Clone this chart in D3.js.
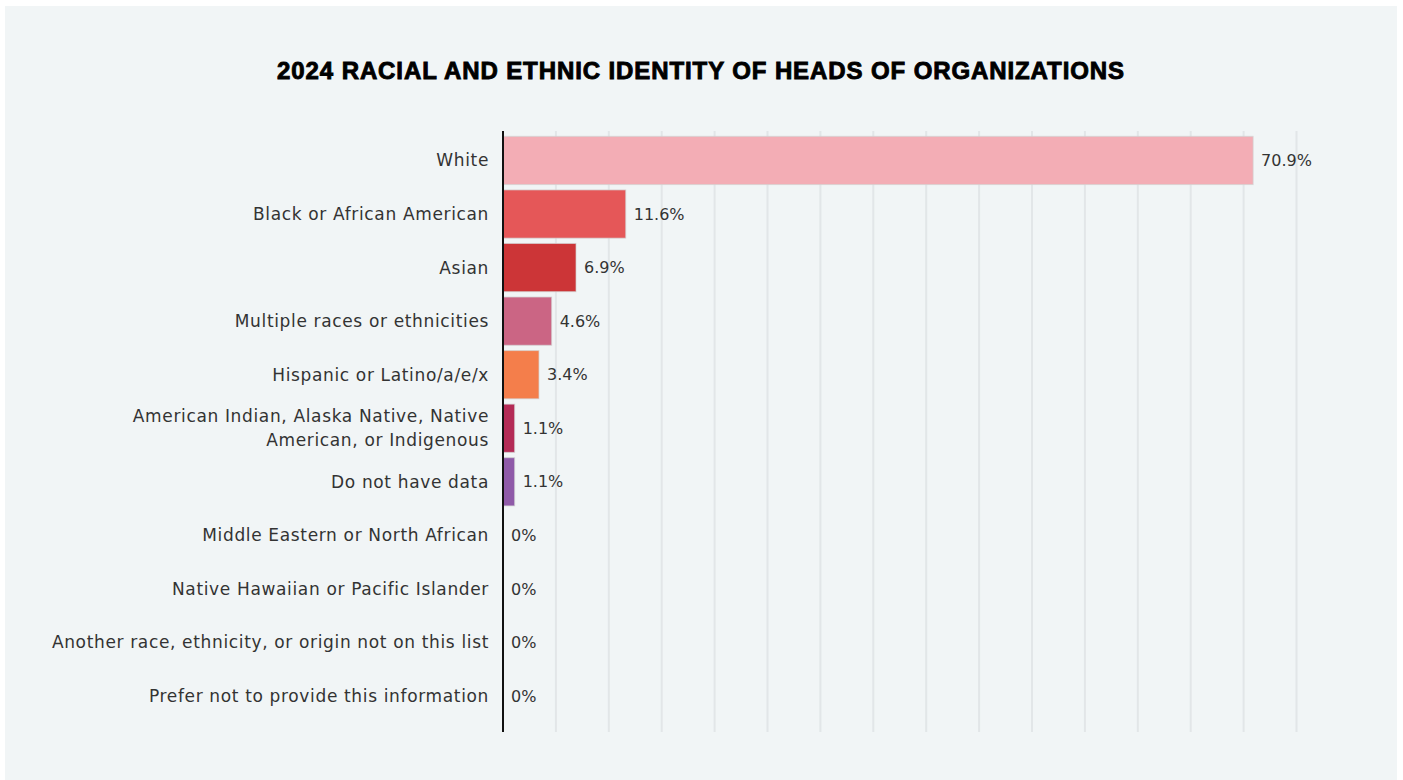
<!DOCTYPE html>
<html>
<head>
<meta charset="utf-8">
<script src="https://cdn.jsdelivr.net/npm/d3@7"></script>
<style>
  html, body { margin: 0; padding: 0; background: #ffffff; }
  svg { display: block; }
</style>
</head>
<body>
<svg id="chart" width="1403" height="780"></svg>
<script>
// Heads of organizations by racial and ethnic identity, 2024 (percent)
const categories = [
  "White",
  "Black or African American",
  "Asian",
  "Multiple races or ethnicities",
  "Hispanic or Latino/a/e/x",
  "American Indian, Alaska Native, Native American, or Indigenous",
  "Do not have data",
  "Middle Eastern or North African",
  "Native Hawaiian or Pacific Islander",
  "Another race, ethnicity, or origin not on this list",
  "Prefer not to provide this information"
];
const values = [70.9, 11.6, 6.9, 4.6, 3.4, 1.1, 1.1, 0, 0, 0, 0];
const valueLabels = ["70.9%", "11.6%", "6.9%", "4.6%", "3.4%", "1.1%", "1.1%", "0%", "0%", "0%", "0%"];
const barColors = ["#f3adb5", "#e55758", "#cc3537", "#cb6584", "#f47e4b", "#b42b56", "#8f5aa8", "#999", "#999", "#999", "#999"];
// Two-line wrapping for the long category name
const labelLines = {
  "American Indian, Alaska Native, Native American, or Indigenous": ["American Indian, Alaska Native, Native", "American, or Indigenous"]
};
const gridTicks = [5, 10, 15, 20, 25, 30, 35, 40, 45, 50, 55, 60, 65, 70, 75];

const svg = d3.select("#chart");

// background panel
svg.append("rect")
  .attr("x", 5).attr("y", 6).attr("width", 1392).attr("height", 774)
  .attr("fill", "#f1f5f6");

// title
svg.append("text")
  .attr("x", 701).attr("y", 79)
  .attr("text-anchor", "middle")
  .attr("font-family", "'Liberation Sans', Arial, sans-serif")
  .attr("font-weight", 700)
  .attr("font-size", 24)
  .attr("letter-spacing", "0.9px")
  .attr("fill", "#000")
  .attr("stroke", "#000")
  .attr("stroke-width", 0.9)
  .text("2024 RACIAL AND ETHNIC IDENTITY OF HEADS OF ORGANIZATIONS");

const x0 = 503;
const x = d3.scaleLinear().domain([0, 75]).range([x0, 1296.5]);
const y = d3.scaleBand().domain(categories).range([133.7, 722.8]).paddingInner(0.1).paddingOuter(0.05);

const plotTop = 131, plotBottom = 732;

// vertical gridlines
svg.append("g")
  .selectAll("line")
  .data(gridTicks)
  .join("line")
  .attr("x1", d => x(d)).attr("x2", d => x(d))
  .attr("y1", plotTop).attr("y2", plotBottom)
  .attr("stroke", "#e2e6e8")
  .attr("stroke-width", 2);

// bars
svg.append("g")
  .selectAll("rect")
  .data(values)
  .join("rect")
  .attr("x", x(0))
  .attr("y", (d, i) => y(categories[i]))
  .attr("width", d => Math.max(0, x(d) - x(0)))
  .attr("height", y.bandwidth())
  .attr("fill", (d, i) => barColors[i])
  .attr("stroke", "rgba(210,210,210,0.7)")
  .attr("stroke-width", 1)
  .attr("display", d => d > 0 ? null : "none");

// axis line
svg.append("line")
  .attr("x1", x0).attr("x2", x0)
  .attr("y1", plotTop).attr("y2", plotBottom)
  .attr("stroke", "#111")
  .attr("stroke-width", 2);

const labelFont = "'DejaVu Sans', 'Noto Sans', sans-serif";

// category labels
const cat = svg.append("g");
categories.forEach((c, i) => {
  const lines = labelLines[c] || [c];
  const cy = y(c) + y.bandwidth() / 2;
  const lh = 24;
  const t = cat.append("text")
    .attr("text-anchor", "end")
    .attr("font-family", labelFont)
    .attr("font-size", 17)
    .attr("letter-spacing", "0.65px")
    .attr("fill", "#333");
  lines.forEach((ln, k) => {
    t.append("tspan")
      .attr("x", 489)
      .attr("y", cy + (k - (lines.length - 1) / 2) * lh)
      .attr("dy", "0.35em")
      .text(ln);
  });
});

// value labels
svg.append("g")
  .selectAll("text")
  .data(values)
  .join("text")
  .attr("x", d => x(d) + 8)
  .attr("y", (d, i) => y(categories[i]) + y.bandwidth() / 2)
  .attr("dy", "0.35em")
  .attr("font-family", labelFont)
  .attr("font-size", 16)
  .attr("fill", "#333")
  .text((d, i) => valueLabels[i]);
</script>
</body>
</html>
